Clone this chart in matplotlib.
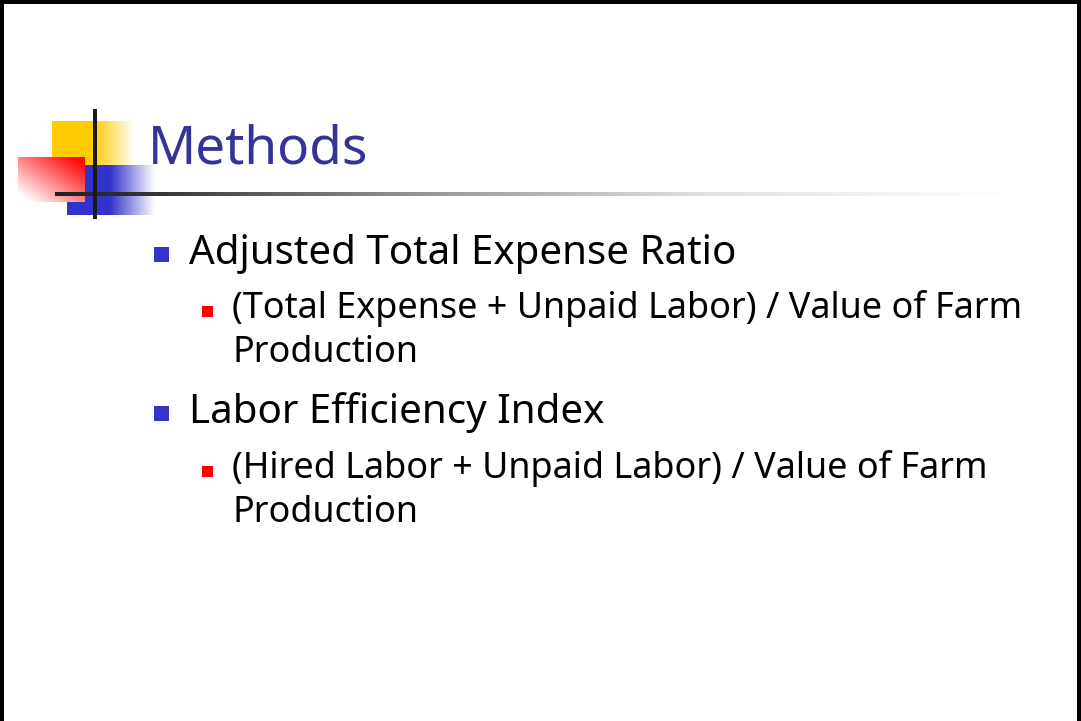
import matplotlib
matplotlib.use("Agg")
import matplotlib.pyplot as plt
import numpy as np
from matplotlib.patches import Rectangle

# slide content
title = "Methods"
main_items = ["Adjusted Total Expense Ratio", "Labor Efficiency Index"]
sub_items = [
    ["(Total Expense + Unpaid Labor) / Value of Farm", "Production"],
    ["(Hired Labor + Unpaid Labor) / Value of Farm", "Production"],
]
main_baselines = [264, 423]
sub_baselines = [[318, 362], [478, 522]]

FONT = "Noto Sans"
W, H = 1081, 721

fig = plt.figure(figsize=(W / 100, H / 100), dpi=100)
ax = fig.add_axes([0, 0, 1, 1])
ax.set_xlim(0, W)
ax.set_ylim(H, 0)
ax.axis("off")


def hfade(color, x0, x1, y0, y1, solid_to, fade_to):
    # horizontal fade: solid colour until solid_to, then to white at fade_to
    xs = np.linspace(x0, x1, 200)
    a = np.clip((fade_to - xs) / (fade_to - solid_to), 0, 1)
    rgb = np.array(matplotlib.colors.to_rgb(color))
    img = np.ones((2, len(xs), 3))
    img[:] = rgb * a[:, None] + (1 - a[:, None])
    ax.imshow(img, extent=(x0, x1, y1, y0), aspect="auto", zorder=2)


# logo blocks
hfade("#ffcc00", 52, 135, 121, 165, 93, 135)
hfade("#3333cc", 67, 155, 165, 215, 110, 155)

# red block, diagonal gradient
gx, gy = np.meshgrid(np.linspace(0, 1, 80), np.linspace(0, 1, 60))
t = np.clip(0.6 * gx + 0.6 * (1 - gy) - 0.1, 0, 1)
red = np.ones((60, 80, 3))
red[..., 1] = 1 - 0.97 * t
red[..., 2] = 1 - 0.97 * t
ax.imshow(red, extent=(18, 85, 202, 157), aspect="auto", zorder=3)

# horizontal rule with fade
xs = np.linspace(55, 1012, 600)
g = np.interp(xs, [55, 150, 380, 700, 1012], [0.13, 0.2, 0.54, 0.88, 1.0])
rule = np.repeat(np.repeat(g[None, :, None], 3, axis=2), 2, axis=0)
ax.imshow(rule, extent=(55, 1012, 196, 192), aspect="auto", zorder=4)

# vertical rule
ax.add_patch(Rectangle((93, 109), 4, 110, color="#1a1a1a", zorder=5, lw=0))

# slide border
ax.add_patch(Rectangle((0, 0), W, 4, color="black", lw=0, zorder=6))
ax.add_patch(Rectangle((0, 0), 4, H, color="black", lw=0, zorder=6))
ax.add_patch(Rectangle((W - 4, 0), 4, H, color="black", lw=0, zorder=6))

# title
ax.text(148, 163, title, fontsize=38.3, family=FONT, color="#333399",
        va="baseline", ha="left", zorder=7)

# bullets
for i, item in enumerate(main_items):
    b = main_baselines[i]
    ax.add_patch(Rectangle((154, b - 17), 15, 15, color="#3333cc", lw=0))
    ax.text(189, b, item, fontsize=29.0, family=FONT, color="black",
            va="baseline", ha="left")
    for j, line in enumerate(sub_items[i]):
        sb = sub_baselines[i][j]
        if j == 0:
            ax.add_patch(Rectangle((202, sb - 12), 11, 11, color="#ff0000", lw=0))
        ax.text(232, sb, line, fontsize=25.9, family=FONT, color="black",
                va="baseline", ha="left")

fig.savefig("out.png", dpi=100)
